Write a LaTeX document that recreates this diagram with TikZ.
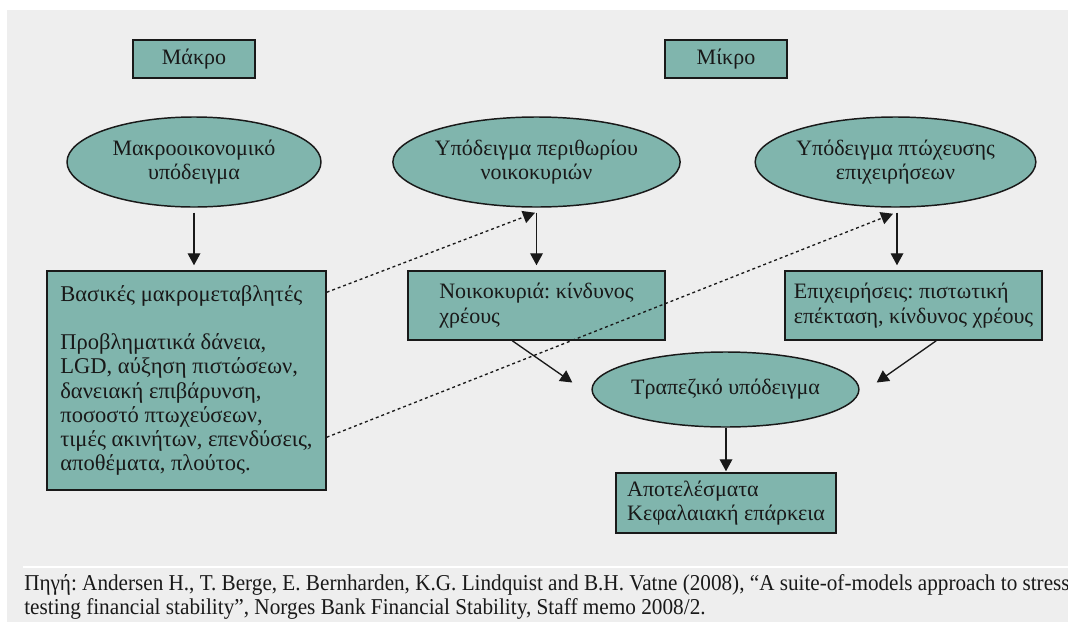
\documentclass[tikz,border=0pt]{standalone}
\usepackage{fontspec}
\usepackage{graphicx}
\setmainfont{Liberation Serif}
\usetikzlibrary{arrows.meta,calc,shapes.geometric}
\definecolor{teal1}{RGB}{128,181,173}
\definecolor{bg}{RGB}{238,238,238}
\definecolor{ink}{RGB}{25,25,25}
\frenchspacing
\begin{document}
\begin{tikzpicture}[x=0.75pt,y=-0.75pt,
  txt/.style={text=ink, font=\fontsize{16.5}{18.2}\selectfont},
  box/.style={txt, rectangle, draw=ink, line width=1.1pt, fill=teal1, inner sep=0pt, align=left},
  oval/.style={txt, ellipse, draw=ink, line width=1.1pt, fill=teal1, inner sep=0pt, align=center},
  arr/.style={-{Triangle[length=9pt,width=9.5pt]}, line width=1pt, draw=ink},
  dot/.style={arr, dash pattern=on 2.2pt off 2.2pt},
  src/.style={anchor=base west, inner sep=0pt, text=ink, font=\fontsize{17}{18}\selectfont}]
\useasboundingbox (0,0) rectangle (1068,622);
\fill[white] (0,0) rectangle (1068,622);
\fill[bg] (7,10) rectangle (1068,622);

\node[box, align=center, minimum width=91.5pt, minimum height=28.5pt] (makro) at (194,59) {Μάκρο};
\node[box, align=center, minimum width=91.5pt, minimum height=28.5pt] (mikro) at (726,59) {Μίκρο};

\node[oval, minimum width=190.5pt, minimum height=67.5pt] (e1) at (194,162) {Μακροοικονομικό\\υπόδειγμα};
\node[oval, minimum width=190pt, minimum height=67.5pt] (e2) at (536.5,162) {Υπόδειγμα περιθωρίου\\νοικοκυριών};
\node[oval, minimum width=191pt, minimum height=67.5pt] (e3) at (895.5,162) {Υπόδειγμα πτώχευσης\\επιχειρήσεων};

\node[box, minimum width=209.25pt, minimum height=164.25pt, font=\fontsize{16.9}{18.2}\selectfont] (big) at (186.5,380.5) {Βασικές μακρομεταβλητές\\[18.2pt]Προβληματικά δάνεια,\\LGD, αύξηση πιστώσεων,\\δανειακή επιβάρυνση,\\ποσοστό πτωχεύσεων,\\τιμές ακινήτων, επενδύσεις,\\αποθέματα, πλούτος.};
\node[box, minimum width=192.75pt, minimum height=51.75pt] (hh) at (536.5,305.5) {Νοικοκυριά: κίνδυνος\\χρέους};
\node[box, minimum width=192.75pt, minimum height=51.75pt] (firms) at (913.5,305.5) {Επιχειρήσεις: πιστωτική\\επέκταση, κίνδυνος χρέους};

\node[oval, minimum width=159.75pt, minimum height=56.25pt] (bank) at (725.5,389.5) {Τραπεζικό υπόδειγμα};
\node[box, minimum width=165pt, minimum height=45pt] (res) at (726,503) {Αποτελέσματα\\Κεφαλαιακή επάρκεια};

\draw[arr] ($(e1.south)+(0,5)$) -- ($(e1.south |- big.north)+(0,-5)$);
\draw[arr] ($(e2.south)+(0,5)$) -- ($(e2.south |- hh.north)+(0,-5)$);
\draw[arr] ($(e3.south)+(1.5,5)$) -- ($(e3.south |- firms.north)+(1.5,-5)$);
\draw[arr] ($(bank.south)+(0.5,0)$) -- ($(bank.south |- res.north)+(0.5,-1)$);

\draw[arr] ($(hh.south west)+(105,0)$) -- ($(bank.west)+(-19,-7)$);
\draw[arr] ($(firms.south west)+(152,0)$) -- ($(bank.east)+(17,-7)$);

\draw[dot] ($(big.north east)+(0,22)$) -- ($(e2.south)+(-1.5,5)$);
\draw[dot] ($(big.north east)+(0,167)$) -- ($(e3.south)+(-2.5,6)$);

\draw[white, line width=1.5pt] (23,567) -- (1068,567);
\node[src] (src1) at (24,590) {\resizebox{784pt}{\height}{Πηγή: Andersen H., T. Berge, E. Bernharden, K.G. Lindquist and B.H. Vatne (2008), “A suite-of-models approach to stress}};
\node[src] (src2) at (24,614) {\resizebox{511pt}{\height}{testing financial stability”, Norges Bank Financial Stability, Staff memo 2008/2.}};
\end{tikzpicture}
\end{document}
